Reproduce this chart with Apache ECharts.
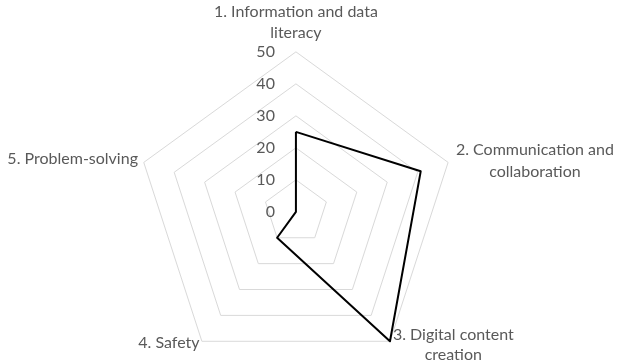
<!DOCTYPE html>
<html>
<head>
<meta charset="utf-8">
<script src="https://cdn.jsdelivr.net/npm/echarts@6/dist/echarts.min.js"></script>
<style>html,body{margin:0;padding:0;background:#fff}#c{width:623px;height:364px}</style>
</head>
<body>
<div id="c"></div>
<script>
// Data in natural (clockwise) order
const categories = ['1. Information and data\nliteracy', '2. Communication and\ncollaboration', '3. Digital content\ncreation', '4. Safety', '5. Problem-solving'];
const values = [25, 41, 50, 10, 0];
const tickLabels = [0, 10, 20, 30, 40, 50];
const axisMax = 50;

// ECharts radar runs counter-clockwise; reorder so the axes read clockwise
const drawOrder = [0, 4, 3, 2, 1];
const styleKeys = ['t1', 't2', 't3', 't4', 't5'];
const chart = echarts.init(document.getElementById('c'));
chart.setOption({
  backgroundColor: '#ffffff',
  textStyle: { fontFamily: 'Lato' },
  radar: {
    center: ['47.5%', '58.2%'],
    radius: 160,
    startAngle: 90,
    splitNumber: tickLabels.length - 1,
    shape: 'polygon',
    nameGap: 4,
    indicator: drawOrder.map((i, j) => ({
      name: categories[i], min: 0, max: axisMax,
      axisLabel: j === 0 ? { show: true } : { show: false }
    })),
    axisName: {
      color: '#595959',
      fontSize: 16,
      fontFamily: 'Lato',
      formatter: function (name) {
        const i = categories.indexOf(name);
        const k = styleKeys[i];
        return name.split('\n').map(l => '{' + k + '|' + l + '}').join('\n');
      },
      rich: {
        t1: { width: 190, align: 'center', lineHeight: 21, fontSize: 16, color: '#595959', padding: [0, 0, 3, 0] },
        t2: { width: 158, align: 'center', lineHeight: 22, fontSize: 16, color: '#595959', padding: [0, 0, 0, 4] },
        t3: { width: 122, align: 'center', lineHeight: 20, fontSize: 16, color: '#595959' },
        t4: { lineHeight: 20, fontSize: 16, color: '#595959', padding: [0, 0, 4, 0] },
        t5: { lineHeight: 20, fontSize: 16, color: '#595959', padding: [0, 2, 5, 0] }
      }
    },
    axisLine: { show: false },
    axisTick: { show: false },
    axisLabel: {
      show: false,
      color: '#595959',
      fontSize: 16,
      margin: 21,
      showMinLabel: true,
      formatter: v => String(v)
    },
    splitLine: { lineStyle: { color: '#d9d9d9', width: 1 } },
    splitArea: { show: false }
  },
  series: [{
    type: 'radar',
    symbol: 'none',
    silent: true,
    animation: false,
    lineStyle: { color: '#000000', width: 2 },
    data: [{ value: drawOrder.map(i => values[i]) }]
  }]
});
</script>
</body>
</html>
